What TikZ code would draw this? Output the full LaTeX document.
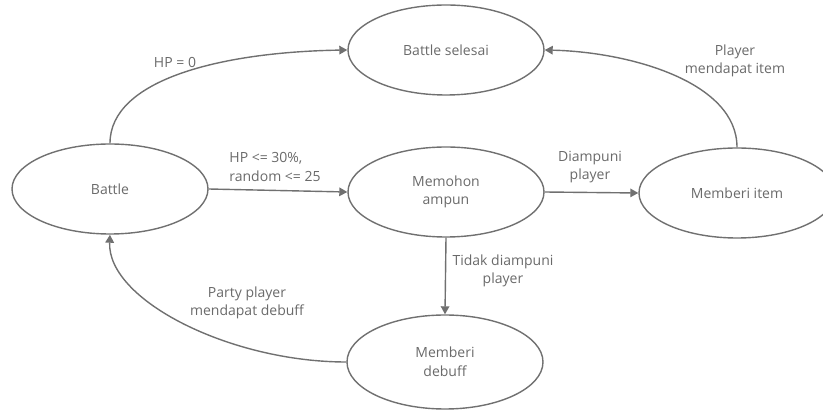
\documentclass[tikz,border=0pt]{standalone}
\usepackage{fontspec}
\setmainfont{Open Sans}
\usetikzlibrary{arrows.meta, shapes.geometric}
\definecolor{linegray}{HTML}{707070}
\definecolor{textgray}{HTML}{6A6A6A}

\begin{document}
\begin{tikzpicture}[
    x=1pt, y=-1pt,
    >={Triangle[length=8pt, width=8.5pt]},
    every node/.style={font=\fontsize{14}{18.5}\selectfont, text=textgray},
    state/.style={ellipse, draw=linegray, line width=1.4pt, inner sep=0pt,
        minimum width=196pt, minimum height=90pt, align=center},
    trans/.style={->, draw=linegray, line width=1.4pt},
    lbl/.style={align=center, inner sep=1pt},
]
\useasboundingbox (0,0) rectangle (823,411);

% States
\node[state] (battle)  at (110, 189) {Battle};
\node[state] (selesai) at (446, 50)  {Battle selesai};
\node[state] (mohon)   at (446, 192) {Memohon\\ampun};
\node[state] (item)    at (737, 193) {Memberi item};
\node[state, minimum height=94pt] (debuff) at (445, 362) {Memberi\\debuff};

% Transitions
\draw[trans] (battle.north) .. controls (110, 80) and (220, 52) .. (selesai.west);
\draw[trans] (battle.east) -- (mohon.west);
\draw[trans] (mohon.east) -- (item.west);
\draw[trans] (item.north) .. controls (737, 82) and (630, 52) .. (selesai.east);
\draw[trans] (mohon.south) -- (debuff.north);
\draw[trans] (debuff.west) .. controls (230, 362) and (107, 300) .. (battle.south);

% Transition labels
\node[lbl] (lhp)     at (175, 62)  {HP = 0};
\node[lbl, align=left] (lrandom) at (275, 167) {HP <= 30\%,\\random <= 25};
\node[lbl] (lampun)  at (590, 167) {Diampuni\\player};
\node[lbl] (ldapat)  at (735, 61)  {Player\\mendapat item};
\node[lbl] (ltidak)  at (503, 271) {Tidak diampuni\\player};
\node[lbl] (lparty)  at (247, 303) {Party player\\mendapat debuff};

\end{tikzpicture}
\end{document}
